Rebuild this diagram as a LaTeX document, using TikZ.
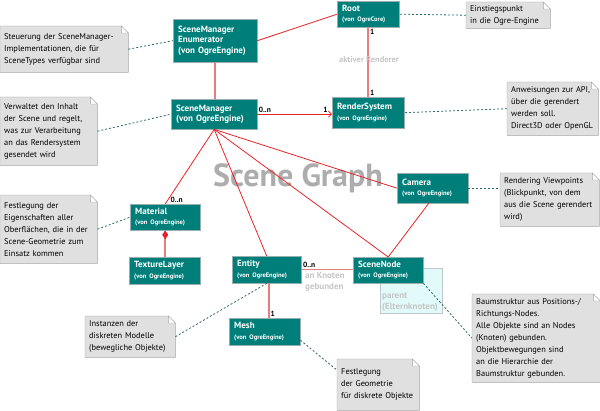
\documentclass[tikz,border=0pt]{standalone}
\usepackage{fontspec}
\setmainfont{PT Sans}
\usetikzlibrary{positioning,arrows.meta,backgrounds}

\definecolor{clsfill}{RGB}{0,127,122}
\definecolor{clsline}{RGB}{150,175,175}
\definecolor{notefill}{RGB}{224,224,224}
\definecolor{noteline}{RGB}{165,165,165}
\definecolor{assoc}{RGB}{230,35,40}
\definecolor{assocweak}{RGB}{232,125,125}
\definecolor{notelink}{RGB}{45,105,105}
\definecolor{parentfill}{RGB}{226,250,250}
\definecolor{parentline}{RGB}{190,200,200}
\definecolor{faint}{RGB}{198,198,198}

\newcommand{\subl}{\fontsize{6.5}{8}\selectfont}

\begin{document}
\begin{tikzpicture}[x=1pt, y=-1pt,
    cls/.style={rectangle, anchor=north west, fill=clsfill, draw=clsline, text=white,
        align=left, inner xsep=5pt, inner ysep=3pt, font=\fontsize{9}{10.5}\selectfont\bfseries},
    note/.style={rectangle, anchor=north west, align=left, inner xsep=4pt, inner ysep=3pt,
        font=\fontsize{8.4}{12}\selectfont},
    rel/.style={draw=assoc, line width=0.8pt},
    relweak/.style={draw=assocweak, line width=1.6pt},
    link/.style={draw=notelink, line width=0.8pt, dash pattern=on 2pt off 2pt},
    mult/.style={font=\fontsize{7.5}{8}\selectfont\bfseries, inner sep=1pt},
    faintlbl/.style={text=faint, font=\fontsize{9}{11.5}\selectfont\bfseries, align=left, inner sep=0pt}]

    \useasboundingbox (0,0) rectangle (600,411);

    % watermark
    \node[text=black!32, font=\fontsize{32}{32}\selectfont\bfseries] (title) at (298,178) {Scene Graph};

    % classes
    \node[cls, text width=74pt, minimum height=43pt] (enum) at (173,19) {SceneManager\\Enumerator\\(von OgreEngine)};
    \node[cls, text width=52pt, minimum height=26pt] (root) at (337,1) {Root\\\subl (von OgreCore)};
    \node[cls, text width=76pt, minimum height=30pt] (smgr) at (171,99) {SceneManager\\(von OgreEngine)};
    \node[cls, text width=62pt, minimum height=31pt] (rsys) at (332,97) {RenderSystem\\\subl (von OgreEngine)};
    \node[cls, text width=60pt, minimum height=26pt] (mat) at (130,204) {Material\\\subl (von OgreEngine)};
    \node[cls, text width=61pt, minimum height=27pt] (tex) at (129,257) {TextureLayer\\\subl (von OgreEngine)};
    \node[cls, text width=61pt, minimum height=30pt] (cam) at (397,173) {Camera\\\subl (von OgreEngine)};
    \node[cls, text width=59pt, minimum height=27pt] (ent) at (232,256) {Entity\\\subl (von OgreEngine)};
    \node[cls, text width=61pt, minimum height=27pt] (mesh) at (229,318) {Mesh\\\subl (von OgreEngine)};

    % parent self-association
    \draw[draw=parentline, fill=parentfill] (380,268) rectangle (442,313);
    \node[faintlbl, anchor=west] (parent) at (382,302) {parent\\(Elternknoten)};
    \node[cls, text width=60pt, minimum height=26pt] (snode) at (353,257) {SceneNode\\\subl (von OgreEngine)};

    % notes
    \node[note, text width=120pt, minimum height=46pt] (nenum) at (0,26) {Steuerung der SceneManager-\\Implementationen, die f\"ur\\SceneTypes verf\"ugbar sind};
    \node[note, text width=89pt, minimum height=68pt] (nsmgr) at (0,97) {Verwaltet den Inhalt\\der Scene und regelt,\\was zur Verarbeitung\\an das Rendersystem\\gesendet wird};
    \node[note, text width=89pt, minimum height=68pt] (nmat) at (0,195) {Festlegung der\\Eigenschaften aller\\Oberfl\"achen, die in der\\Scene-Geometrie zum\\Einsatz kommen};
    \node[note, text width=76pt, minimum height=26pt] (nroot) at (466,2) {Einstiegspunkt\\in die Ogre-Engine};
    \node[note, text width=83pt, minimum height=53pt] (nrsys) at (507,82) {Anweisungen zur API,\\\"uber die gerendert\\werden soll.\\Direct3D oder OpenGL};
    \node[note, text width=91pt, minimum height=53pt] (ncam) at (500,173) {Rendering Viewpoints\\(Blickpunkt, von dem\\aus die Scene gerendert\\wird)};
    \node[note, text width=82pt, minimum height=41pt] (nent) at (85,316) {Instanzen der\\diskreten Modelle\\(bewegliche Objekte)};
    \node[note, text width=120pt, minimum height=88pt] (nsnode) at (472,294) {Baumstruktur aus Positions-/\\Richtungs-Nodes.\\Alle Objekte sind an Nodes\\(Knoten) gebunden.\\Objektbewegungen sind\\an die Hierarchie der\\Baumstruktur gebunden.};
    \node[note, text width=74pt, minimum height=51pt] (nmesh) at (337,359) {Festlegung\\der Geometrie\\f\"ur diskrete Objekte};

    \begin{scope}[on background layer]
        \foreach \n in {nenum,nsmgr,nmat,nroot,nrsys,ncam,nent,nsnode,nmesh} {
            \draw[noteline, fill=notefill] (\n.north west) -- ([xshift=-7pt]\n.north east)
                -- ([yshift=-7pt]\n.north east) -- (\n.south east) -- (\n.south west) -- cycle;
            \draw[noteline, fill=white] ([xshift=-7pt]\n.north east) -- ([xshift=-7pt,yshift=-7pt]\n.north east)
                -- ([yshift=-7pt]\n.north east) -- cycle;
        }
    \end{scope}

    % associations
    \draw[rel] (enum.east) -- (root.west);
    \draw[relweak] (enum.south) -- (enum.south |- smgr.north);
    \draw[relweak] (root.south) -- (root.south |- rsys.north)
        node[mult, pos=0, anchor=north west] {1}
        node[mult, pos=1, anchor=south west] {1};
    \node[faintlbl, font=\fontsize{8.5}{9}\selectfont\bfseries] (active) at (369,60) {aktiver Renderer};
    \draw[rel, -{Straight Barb[length=3pt,width=6pt]}] (smgr.east) -- (smgr.east -| rsys.west)
        node[mult, pos=0, anchor=south west] {0..n}
        node[mult, pos=1, anchor=south east, xshift=-3pt] {1};
    \draw[rel] (smgr.south) -- (mat.north)
        node[mult, pos=1, anchor=south west, xshift=4pt] {0..n};
    \draw[rel] (smgr.south) -- (ent.north);
    \draw[rel] (smgr.south) -- (snode.north);
    \draw[rel] (smgr.south) -- (cam.west);
    \draw[rel] ([xshift=-4pt]cam.south) -- (snode.north);
    \draw[relweak, {Diamond[length=9pt,width=6pt,fill=assoc,color=assoc]}-] (mat.south) -- (mat.south |- tex.north);
    \draw[relweak] (ent.east) -- (ent.east -| snode.west)
        node[mult, pos=0, anchor=south west] {0..n};
    \node[faintlbl, anchor=north west] (bound) at (305,272) {an Knoten\\gebunden};
    \draw[relweak] ([xshift=2pt]ent.south) -- ([xshift=2pt]ent.south |- mesh.north)
        node[mult, pos=1, anchor=south west] {1};

    % note links
    \draw[link] (nenum.east) -- (enum.west);
    \draw[link] (nsmgr.east) -- (smgr.west);
    \draw[link] (nmat.east) -- (mat.west);
    \draw[link] (nroot.west) -- (root.east);
    \draw[link] (nrsys.west) -- (rsys.east);
    \draw[link] (cam.east) -- (cam.east -| ncam.west);
    \draw[link] (nent.east) -- (ent.south);
    \draw[link] ([yshift=-8.5pt]mesh.east) -- ([yshift=14.5pt]nmesh.west);
    \draw[link] (snode.south east) -- (nsnode.west);
\end{tikzpicture}
\end{document}
